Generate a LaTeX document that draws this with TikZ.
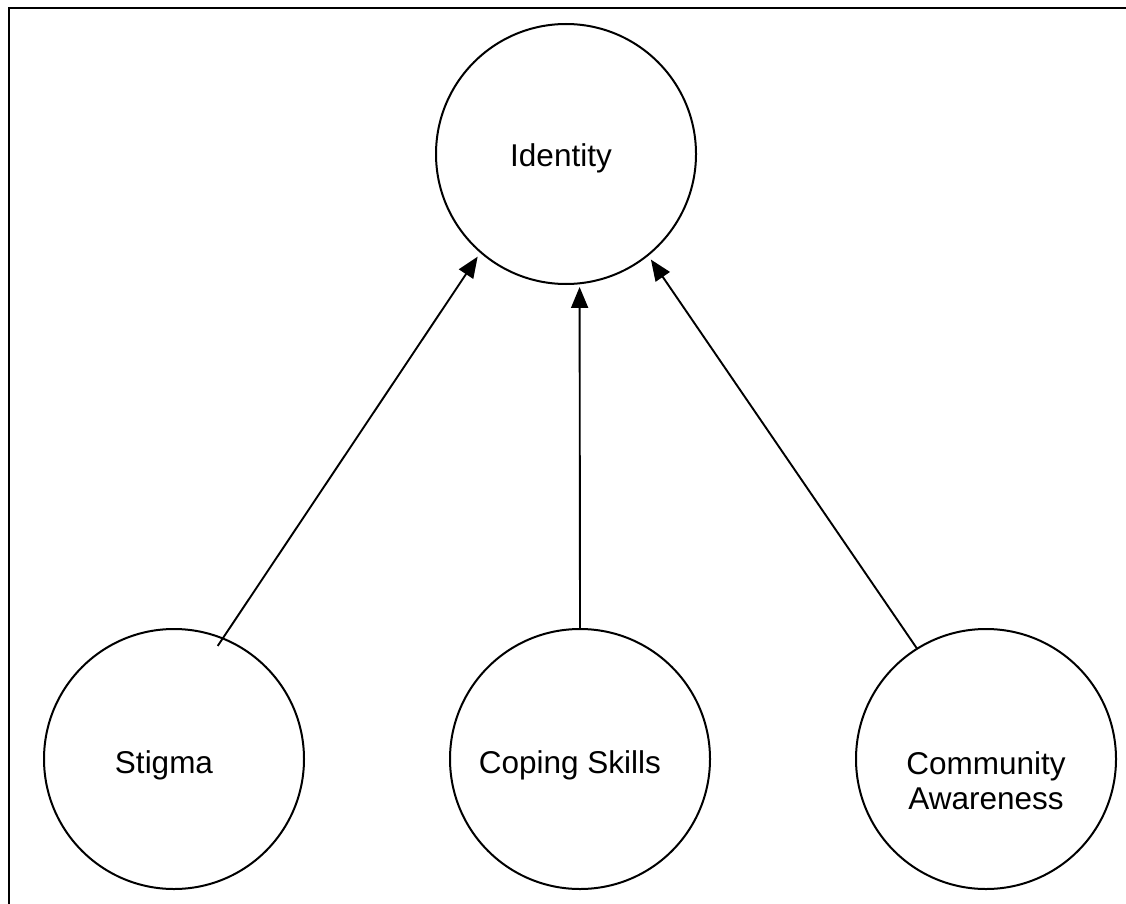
\documentclass[tikz,border=0pt]{standalone}
\usepackage{fontspec}
\setmainfont{Liberation Sans}
\usetikzlibrary{arrows.meta}
\begin{document}
\begin{tikzpicture}[x=1pt,y=-1pt,
  bubble/.style={circle,draw,line width=2pt,minimum size=260pt,inner sep=0pt,outer sep=0pt},
  lbl/.style={font=\fontsize{31.5}{35}\selectfont,inner sep=0pt,align=center},
  link/.style={line width=1.9pt,-{Triangle[length=21pt,width=17pt]}},
  frameline/.style={line width=2.8pt}]
\useasboundingbox (0,0) rectangle (1126,904);
\draw[frameline] (9,904) -- (9,8) -- (1126,8);
\node[bubble] (identity) at (566,154) {};
\node[bubble] (stigma) at (174,759) {};
\node[bubble] (coping) at (580,759) {};
\node[bubble] (community) at (986,759) {};
\node[lbl,anchor=base] (identitytext) at (561,167) {Identity};
\node[lbl,anchor=base] (stigmatext) at (164,773) {Stigma};
\node[lbl,anchor=base] (copingtext) at (570,773) {Coping Skills};
\node[lbl,anchor=center] (communitytext) at (986,781) {Community\\Awareness};
\draw[link,shorten <=-9pt,shorten >=5.5pt] (stigma.68.7) -- (identity.229.5);
\draw[link,shorten >=3.7pt] (coping.90) -- (identity.276);
\draw[link,shorten >=5.5pt] (community.122.4) -- (identity.309.9);
\end{tikzpicture}
\end{document}
